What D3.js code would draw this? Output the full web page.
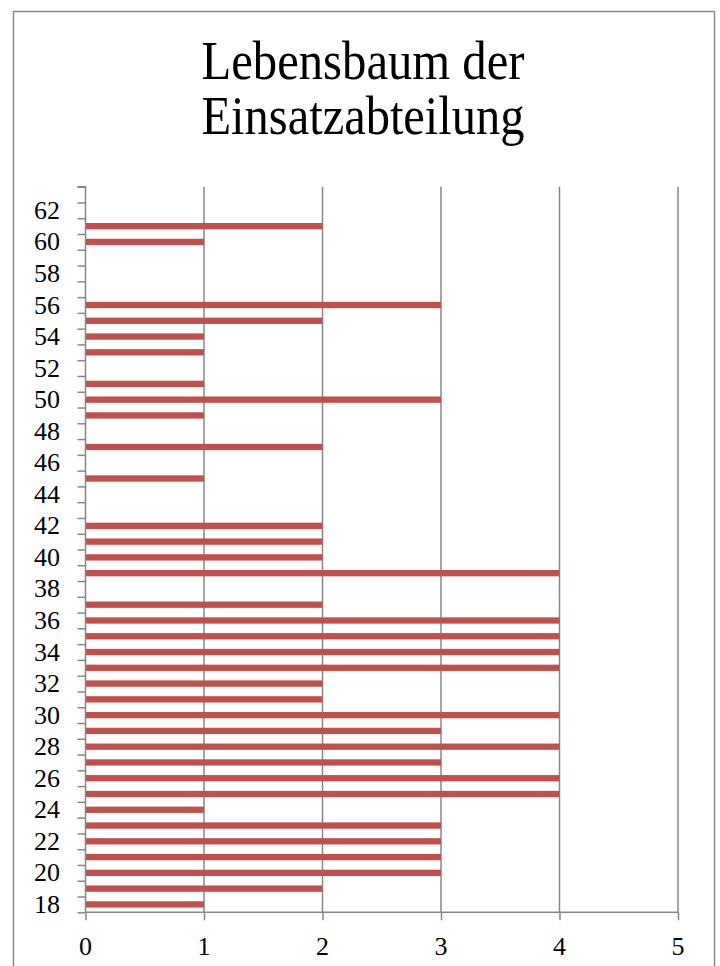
<!DOCTYPE html>
<html>
<head>
<meta charset="utf-8">
<script src="https://cdn.jsdelivr.net/npm/d3@7"></script>
<style>
  html, body { margin: 0; padding: 0; background: #fff; }
  svg { display: block; }
</style>
</head>
<body>
<script>
// ---- data ----
const titleLines = ["Lebensbaum der", "Einsatzabteilung"];
const ages = d3.range(18, 64); // 18 .. 63
const counts = [
  1, 2, 3, 3, 3, 3, 1, 4, 4, 3,   // 18-27
  4, 3, 4, 2, 2, 4, 4, 4, 4, 2,   // 28-37
  0, 4, 2, 2, 2, 0, 0, 1, 0, 2,   // 38-47
  0, 1, 3, 1, 0, 1, 1, 2, 3, 0,   // 48-57
  0, 0, 1, 2, 0, 0                // 58-63
];
const ageLabels = d3.range(18, 63, 2);
const xTicks = [0, 1, 2, 3, 4, 5];

// ---- layout ----
const W = 720, H = 966;
const FONT = "'Liberation Serif', 'DejaVu Serif', serif";
const plot = { left: 85.5, right: 678, top: 186.7, bottom: 912.3 };
const barColor = "#C0504D";
const gridColor = "#878787";

const svg = d3.select("body").append("svg").attr("width", W).attr("height", H);
svg.append("rect").attr("width", W).attr("height", H).attr("fill", "#fff");

// chart border
svg.append("rect")
  .attr("x", 13.5).attr("y", 11.5).attr("width", 701).attr("height", 980)
  .attr("fill", "none").attr("stroke", "#8a8a8a").attr("stroke-width", 1.5);

// title
const title = svg.append("g");
titleLines.forEach((t, i) => {
  title.append("text")
    .attr("x", 363).attr("y", 79 + i * 55)
    .attr("text-anchor", "middle")
    .attr("font-family", FONT)
    .attr("font-size", 54)
    .attr("textLength", 323)
    .attr("lengthAdjust", "spacingAndGlyphs")
    .attr("fill", "#000")
    .text(t);
});

// scales
const x = d3.scaleLinear().domain([0, 5]).range([plot.left, plot.right]);
const y = d3.scaleBand().domain(ages).range([plot.bottom, plot.top])
  .paddingInner(0.6).paddingOuter(0.3);
const yEdge = d3.scaleLinear().domain([18, 64]).range([plot.bottom, plot.top]);

// vertical gridlines
svg.append("g").selectAll("line").data(xTicks.filter(d => d > 0)).join("line")
  .attr("x1", d => x(d)).attr("x2", d => x(d))
  .attr("y1", plot.top).attr("y2", plot.bottom)
  .attr("stroke", gridColor).attr("stroke-width", 1.5);

// bars
const data = ages.map((a, i) => ({ age: a, v: counts[i] }));
svg.append("g").selectAll("rect").data(data.filter(d => d.v > 0)).join("rect")
  .attr("x", x(0))
  .attr("y", d => y(d.age))
  .attr("width", d => x(d.v) - x(0))
  .attr("height", y.bandwidth())
  .attr("fill", barColor);

// y axis: boundary ticks
const yAxis = d3.axisLeft(yEdge).tickValues(d3.range(18, 65)).tickSize(8).tickFormat("");
const gy = svg.append("g").attr("transform", `translate(${plot.left},0)`).call(yAxis);
gy.select(".domain").attr("stroke", gridColor).attr("stroke-width", 1.5).attr("d", `M-8,${plot.top}H0V${plot.bottom}`);
gy.selectAll(".tick line").attr("stroke", gridColor).attr("stroke-width", 1.5);

// y labels
svg.append("g").selectAll("text").data(ageLabels).join("text")
  .attr("x", 60)
  .attr("y", d => y(d) + y.bandwidth() / 2)
  .attr("text-anchor", "end")
  .attr("dominant-baseline", "central")
  .attr("font-family", FONT)
  .attr("font-size", 26)
  .attr("fill", "#000")
  .text(d => d);

// x axis
const xAxis = d3.axisBottom(x).tickValues(xTicks).tickSize(8).tickFormat("");
const gx = svg.append("g").attr("transform", `translate(0,${plot.bottom})`).call(xAxis);
gx.select(".domain").attr("stroke", gridColor).attr("stroke-width", 1.5).attr("d", `M${plot.left},0H${plot.right}`);
gx.selectAll(".tick line").attr("stroke", gridColor).attr("stroke-width", 1.5);

svg.append("g").selectAll("text").data(xTicks).join("text")
  .attr("x", d => x(d))
  .attr("y", 955)
  .attr("text-anchor", "middle")
  .attr("font-family", FONT)
  .attr("font-size", 26)
  .attr("fill", "#000")
  .text(d => d);
</script>
</body>
</html>
